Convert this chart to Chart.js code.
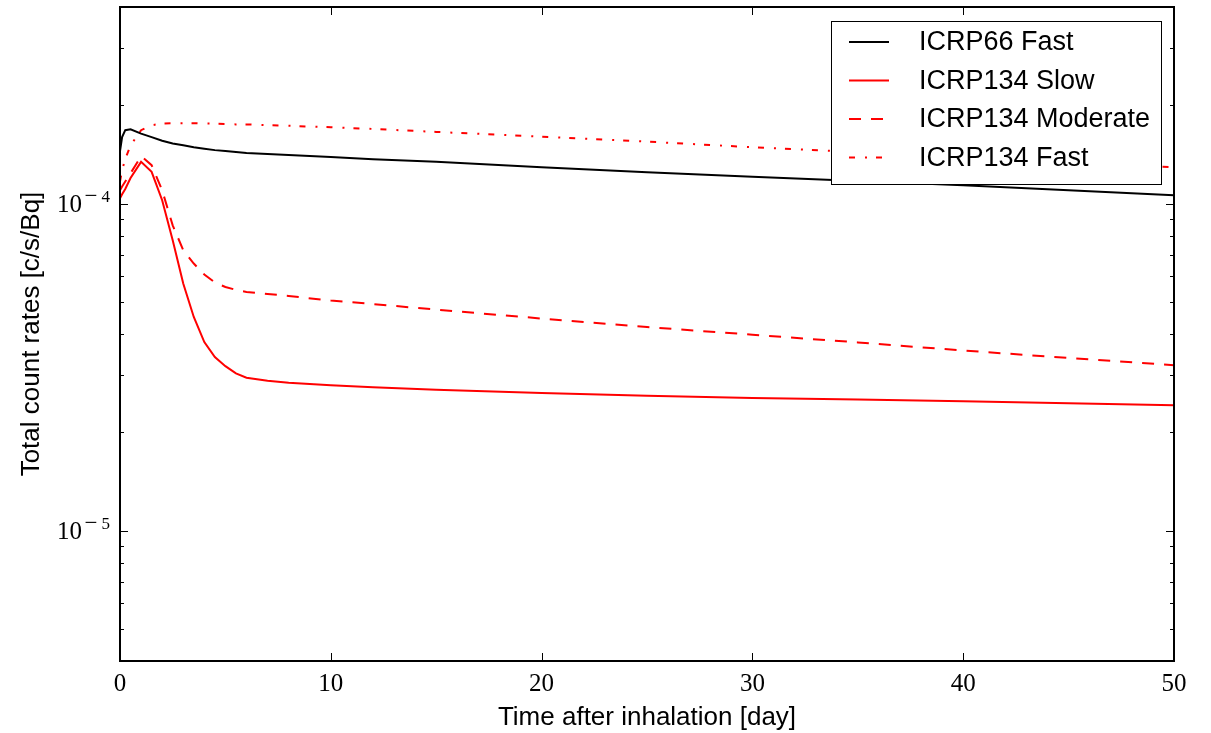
<!DOCTYPE html>
<html>
<head>
<meta charset="utf-8">
<script src="https://cdn.jsdelivr.net/npm/chart.js@4.4.1/dist/chart.umd.min.js"></script>
<style>
  html, body { margin: 0; padding: 0; background: #fff; }
</style>
</head>
<body>
<canvas id="chart" width="1211" height="733"></canvas>
<script>
// Time after inhalation [day]
const days = [0, 0.1, 0.25, 0.5, 1, 1.5, 2, 2.5, 3, 3.5, 4, 4.5, 5, 5.5, 6, 7, 8, 10, 12, 15, 20, 25, 30, 35, 40, 45, 50];

// Total count rates [c/s/Bq]
const icrp66Fast = [1.45e-4, 1.60e-4, 1.68e-4, 1.69e-4, 1.64e-4, 1.60e-4, 1.56e-4, 1.53e-4, 1.51e-4, 1.49e-4,
    1.475e-4, 1.46e-4, 1.45e-4, 1.44e-4, 1.43e-4, 1.42e-4, 1.41e-4, 1.39e-4, 1.37e-4, 1.345e-4,
    1.295e-4, 1.25e-4, 1.21e-4, 1.175e-4, 1.14e-4, 1.10e-4, 1.063e-4];
const icrp134Slow = [1.04e-4, 1.07e-4, 1.11e-4, 1.20e-4, 1.344e-4, 1.253e-4, 1.026e-4, 7.74e-5, 5.71e-5, 4.51e-5,
    3.78e-5, 3.40e-5, 3.19e-5, 3.03e-5, 2.94e-5, 2.88e-5, 2.84e-5, 2.79e-5, 2.75e-5, 2.70e-5,
    2.64e-5, 2.59e-5, 2.55e-5, 2.52e-5, 2.49e-5, 2.455e-5, 2.42e-5];
const icrp134Moderate = [1.10e-4, 1.13e-4, 1.17e-4, 1.24e-4, 1.40e-4, 1.313e-4, 1.10e-4, 8.6e-5, 7.22e-5, 6.57e-5,
    6.08e-5, 5.75e-5, 5.57e-5, 5.46e-5, 5.38e-5, 5.30e-5, 5.23e-5, 5.06e-5, 4.94e-5, 4.75e-5,
    4.46e-5, 4.20e-5, 3.98e-5, 3.77e-5, 3.56e-5, 3.38e-5, 3.21e-5];
const icrp134Fast = [1.17e-4, 1.27e-4, 1.37e-4, 1.51e-4, 1.68e-4, 1.74e-4, 1.76e-4, 1.765e-4, 1.765e-4, 1.765e-4,
    1.76e-4, 1.76e-4, 1.755e-4, 1.75e-4, 1.75e-4, 1.74e-4, 1.733e-4, 1.715e-4, 1.695e-4, 1.66e-4,
    1.605e-4, 1.55e-4, 1.49e-4, 1.44e-4, 1.39e-4, 1.34e-4, 1.295e-4];

// Ticks
const xTicks = [0, 10, 20, 30, 40, 50];
const yMajorExps = [-5, -4];
const yMinorMults = [2, 3, 4, 5, 6, 7, 8, 9];

// name, values, colour, dash
const series = [
    ['ICRP66 Fast', icrp66Fast, '#000000', []],
    ['ICRP134 Slow', icrp134Slow, '#ff0000', []],
    ['ICRP134 Moderate', icrp134Moderate, '#ff0000', [12, 10]],
    ['ICRP134 Fast', icrp134Fast, '#ff0000', [6, 10, 2, 9]]
];

const sansFont = 'Liberation Sans';
const serifFont = 'Liberation Serif';

// Frame, inward ticks, log labels and legend
const framePlugin = {
    id: 'frame',
    afterDraw(chart) {
        const ctx = chart.ctx;
        const a = chart.chartArea;
        const xs = chart.scales.x;
        const ys = chart.scales.y;
        ctx.save();
        ctx.strokeStyle = '#000';
        ctx.lineWidth = 1;

        // x ticks, top and bottom
        ctx.beginPath();
        xTicks.forEach(v => {
            const px = Math.round(xs.getPixelForValue(v)) + 0.5;
            ctx.moveTo(px, a.bottom); ctx.lineTo(px, a.bottom - 8);
            ctx.moveTo(px, a.top); ctx.lineTo(px, a.top + 8);
        });
        // y ticks, left and right
        for (let e = -6; e <= -4; e++) {
            [1].concat(yMinorMults).forEach(m => {
                const v = m * Math.pow(10, e);
                if (v < ys.min || v > ys.max) return;
                const py = Math.round(ys.getPixelForValue(v)) + 0.5;
                const len = m === 1 ? 8 : 4;
                ctx.moveTo(a.left, py); ctx.lineTo(a.left + len, py);
                ctx.moveTo(a.right, py); ctx.lineTo(a.right - len, py);
            });
        }
        ctx.stroke();

        // box
        ctx.lineWidth = 2;
        ctx.strokeRect(a.left, a.top, a.right - a.left, a.bottom - a.top);

        // y labels 10^e
        ctx.fillStyle = '#000';
        ctx.textBaseline = 'alphabetic';
        ctx.textAlign = 'right';
        yMajorExps.forEach(e => {
            const py = ys.getPixelForValue(Math.pow(10, e));
            ctx.font = '17px "' + serifFont + '"';
            ctx.fillText(String(Math.abs(e)), a.left - 10, py - 2);
            ctx.textAlign = 'center';
            ctx.font = '23px "' + serifFont + '"';
            ctx.fillText('\u2212', a.left - 29, py - 1);
            ctx.textAlign = 'right';
            ctx.font = '25px "' + serifFont + '"';
            ctx.fillText('10', a.left - 38, py + 8);
        });

        // legend
        const lx = 831, ly = 21, lw = 330, lh = 163;
        ctx.fillStyle = '#fff';
        ctx.fillRect(lx, ly, lw, lh);
        ctx.lineWidth = 1;
        ctx.strokeStyle = '#000';
        ctx.strokeRect(lx + 0.5, ly + 0.5, lw, lh);
        ctx.font = '27px "' + sansFont + '"';
        ctx.textAlign = 'left';
        ctx.textBaseline = 'middle';
        series.forEach((s, i) => {
            const y = 42 + i * 38.5;
            ctx.beginPath();
            ctx.strokeStyle = s[2];
            ctx.lineWidth = 2;
            ctx.setLineDash(s[3]);
            ctx.moveTo(849, y); ctx.lineTo(889, y);
            ctx.stroke();
            ctx.setLineDash([]);
            ctx.fillStyle = '#000';
            ctx.fillText(s[0], 919, y + 1);
        });
        ctx.restore();
    }
};

new Chart(document.getElementById('chart'), {
    type: 'line',
    data: {
        datasets: series.map(s => ({
            label: s[0],
            data: days.map((d, i) => ({ x: d, y: s[1][i] })),
            borderColor: s[2],
            borderDash: s[3],
            borderWidth: 2,
            fill: false,
            pointRadius: 0,
            tension: 0
        }))
    },
    options: {
        responsive: false,
        animation: false,
        devicePixelRatio: 1,
        layout: { padding: { top: 7, right: 37, left: 0, bottom: 0 } },
        plugins: {
            legend: { display: false },
            tooltip: { enabled: false }
        },
        scales: {
            x: {
                type: 'linear',
                min: 0,
                max: 50,
                afterBuildTicks: scale => { scale.ticks = xTicks.map(v => ({ value: v })); },
                afterFit: scale => { scale.height = 72; },
                grid: { display: false, drawTicks: false },
                border: { display: false },
                ticks: {
                    font: { family: serifFont, size: 25 },
                    color: '#000',
                    padding: 8,
                    maxRotation: 0,
                    autoSkip: false
                },
                title: {
                    display: true,
                    text: 'Time after inhalation [day]',
                    font: { family: sansFont, size: 26 },
                    color: '#000',
                    padding: { top: 0, bottom: 0 }
                }
            },
            y: {
                type: 'logarithmic',
                min: 4e-6,
                max: 4e-4,
                afterFit: scale => { scale.width = 120; },
                grid: { display: false, drawTicks: false },
                border: { display: false },
                ticks: { display: false },
                title: {
                    display: true,
                    text: 'Total count rates [c/s/Bq]',
                    font: { family: sansFont, size: 26 },
                    color: '#000',
                    padding: { top: 16, bottom: 0 }
                }
            }
        }
    },
    plugins: [framePlugin]
});
</script>
</body>
</html>
